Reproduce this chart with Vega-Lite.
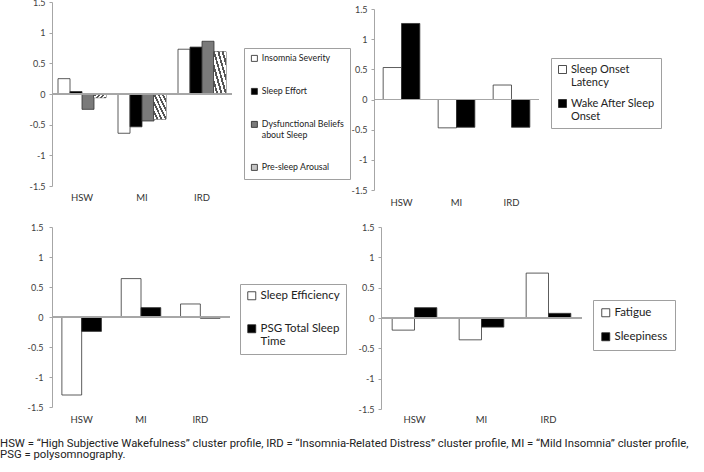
{
  "$schema": "https://vega.github.io/schema/vega-lite/v6.json",
  "padding": {"left": 0, "top": -2, "right": 0, "bottom": 0},
  "config": {
    "font": "Lato",
    "view": {"stroke": null},
    "axis": {"grid": false},
    "axisY": {"domainColor": "#a6a6a6", "tickColor": "#a6a6a6", "tickSize": 3, "labelFontSize": 9, "labelColor": "#404040", "labelPadding": 4, "labelOverlap": false, "title": null},
    "axisX": {"title": null, "domain": false, "ticks": false, "labelAngle": 0, "labelFontSize": 9.5, "labelColor": "#333333", "labelOverlap": false, "labelLimit": 100},
    "legend": {"orient": "none", "strokeColor": "#a0a0a0", "fillColor": "#ffffff", "symbolType": "square", "symbolStrokeColor": "#222222", "symbolStrokeWidth": 0.8, "labelColor": "#222222", "labelLimit": 300, "labelOffset": 3}
  },
  "title": {
    "text": ["HSW = “High Subjective Wakefulness” cluster profile, IRD = “Insomnia-Related Distress” cluster profile, MI = “Mild Insomnia” cluster profile,", "PSG = polysomnography."],
    "orient": "bottom", "anchor": "start", "frame": "bounds", "dx": -27,
    "font": "Roboto", "fontSize": 11.3, "fontWeight": "normal", "color": "#222222", "offset": 14, "lineHeight": 11.5
  },
  "datasets": {
    "tl": [
      {"g": "HSW", "s": "Insomnia Severity", "v": 0.25},
      {"g": "HSW", "s": "Sleep Effort", "v": 0.04},
      {"g": "HSW", "s": "Dysfunctional Beliefs about Sleep", "v": -0.25},
      {"g": "HSW", "s": "Pre-sleep Arousal", "v": -0.06},
      {"g": "MI", "s": "Insomnia Severity", "v": -0.64},
      {"g": "MI", "s": "Sleep Effort", "v": -0.535},
      {"g": "MI", "s": "Dysfunctional Beliefs about Sleep", "v": -0.44},
      {"g": "MI", "s": "Pre-sleep Arousal", "v": -0.41},
      {"g": "IRD", "s": "Insomnia Severity", "v": 0.73},
      {"g": "IRD", "s": "Sleep Effort", "v": 0.765},
      {"g": "IRD", "s": "Dysfunctional Beliefs about Sleep", "v": 0.86},
      {"g": "IRD", "s": "Pre-sleep Arousal", "v": 0.69}
    ],
    "tr": [
      {"g": "HSW", "s": "Sleep Onset Latency", "v": 0.53},
      {"g": "HSW", "s": "Wake After Sleep Onset", "v": 1.26},
      {"g": "MI", "s": "Sleep Onset Latency", "v": -0.47},
      {"g": "MI", "s": "Wake After Sleep Onset", "v": -0.46},
      {"g": "IRD", "s": "Sleep Onset Latency", "v": 0.24},
      {"g": "IRD", "s": "Wake After Sleep Onset", "v": -0.46}
    ],
    "bl": [
      {"g": "HSW", "s": "Sleep Efficiency", "v": -1.3},
      {"g": "HSW", "s": "PSG Total Sleep Time", "v": -0.24},
      {"g": "MI", "s": "Sleep Efficiency", "v": 0.64},
      {"g": "MI", "s": "PSG Total Sleep Time", "v": 0.156},
      {"g": "IRD", "s": "Sleep Efficiency", "v": 0.217},
      {"g": "IRD", "s": "PSG Total Sleep Time", "v": -0.02}
    ],
    "br": [
      {"g": "HSW", "s": "Fatigue", "v": -0.2},
      {"g": "HSW", "s": "Sleepiness", "v": 0.17},
      {"g": "MI", "s": "Fatigue", "v": -0.36},
      {"g": "MI", "s": "Sleepiness", "v": -0.15},
      {"g": "IRD", "s": "Fatigue", "v": 0.74},
      {"g": "IRD", "s": "Sleepiness", "v": 0.077}
    ]
  },
  "spacing": 16,
  "resolve": {"scale": {"fill": "independent"}, "legend": {"fill": "independent"}},
  "vconcat": [
    {
      "spacing": 0,
      "resolve": {"scale": {"fill": "independent"}, "legend": {"fill": "independent"}},
      "hconcat": [
        {
          "width": 180, "height": 184,
          "data": {"name": "tl"},
          "transform": [{"calculate": "datum.g + '|' + datum.s", "as": "k"}],
          "layer": [
            {
              "mark": {"type": "bar", "stroke": "#333333", "strokeWidth": 0.8},
              "encoding": {
                "x": {"field": "k", "type": "nominal",
                      "scale": {"domain": ["HSW|Insomnia Severity", "HSW|Sleep Effort", "HSW|Dysfunctional Beliefs about Sleep", "HSW|Pre-sleep Arousal", "sp1",
                                           "MI|Insomnia Severity", "MI|Sleep Effort", "MI|Dysfunctional Beliefs about Sleep", "MI|Pre-sleep Arousal", "sp2",
                                           "IRD|Insomnia Severity", "IRD|Sleep Effort", "IRD|Dysfunctional Beliefs about Sleep", "IRD|Pre-sleep Arousal"],
                                "paddingInner": 0, "paddingOuter": 0.5},
                      "axis": {"labelPadding": 6, "labelOffset": 6, "labelExpr": "indexof(datum.label, '|Sleep Effort') > 0 ? substring(datum.label, 0, indexof(datum.label, '|')) : ''"}},
                "y": {"field": "v", "type": "quantitative", "scale": {"domain": [-1.5, 1.5], "nice": false},
                      "axis": {"labelOverlap": false, "tickCount": 7, "labelExpr": "datum.value == 0 ? '0' : (datum.value < 0 ? '-' : '') + toString(abs(datum.value))"}},
                "fill": {"field": "s", "type": "nominal",
                         "scale": {"domain": ["Insomnia Severity", "Sleep Effort", "Dysfunctional Beliefs about Sleep", "Pre-sleep Arousal"],
                                   "range": ["#ffffff", "#000000", "#7a7a7a", "#c4c4c4"]},
                         "legend": {"title": null, "legendX": 192, "legendY": 46, "padding": 6, "symbolSize": 36, "labelFontSize": 8.8, "rowPadding": 22,
                                    "labelExpr": "datum.label == 'Dysfunctional Beliefs about Sleep' ? ['Dysfunctional Beliefs', 'about Sleep'] : datum.label"}}
              }
            },
            {
              "mark": {"type": "bar", "strokeWidth": 0,
                       "fill": {"gradient": "linear", "x1": 0, "y1": 1, "x2": 1, "y2": 0, "stops": [
                         {"offset": 0, "color": "#ffffff"}, {"offset": 0.1, "color": "#ffffff"}, {"offset": 0.1, "color": "#555555"}, {"offset": 0.18, "color": "#555555"},
                         {"offset": 0.18, "color": "#ffffff"}, {"offset": 0.28, "color": "#ffffff"}, {"offset": 0.28, "color": "#555555"}, {"offset": 0.36, "color": "#555555"},
                         {"offset": 0.36, "color": "#ffffff"}, {"offset": 0.46, "color": "#ffffff"}, {"offset": 0.46, "color": "#555555"}, {"offset": 0.54, "color": "#555555"},
                         {"offset": 0.54, "color": "#ffffff"}, {"offset": 0.64, "color": "#ffffff"}, {"offset": 0.64, "color": "#555555"}, {"offset": 0.72, "color": "#555555"},
                         {"offset": 0.72, "color": "#ffffff"}, {"offset": 0.82, "color": "#ffffff"}, {"offset": 0.82, "color": "#555555"}, {"offset": 0.9, "color": "#555555"},
                         {"offset": 0.9, "color": "#ffffff"}, {"offset": 1, "color": "#ffffff"}]}},
              "encoding": {
                "x": {"field": "k", "type": "nominal"},
                "y": {"field": "v", "type": "quantitative"},
                "opacity": {"condition": {"test": "datum.s == 'Pre-sleep Arousal'", "value": 1}, "value": 0}
              }
            },
            {
              "mark": {"type": "rule", "color": "#a6a6a6", "strokeWidth": 1},
              "encoding": {"y": {"datum": 0, "type": "quantitative"}}
            }
          ]
        },
        {
          "width": 165, "height": 188,
          "data": {"name": "tr"},
          "transform": [{"calculate": "datum.g + '|' + datum.s", "as": "k"}],
          "layer": [
            {
              "mark": {"type": "bar", "stroke": "#333333", "strokeWidth": 0.8},
              "encoding": {
                "x": {"field": "k", "type": "nominal",
                      "scale": {"domain": ["HSW|Sleep Onset Latency", "HSW|Wake After Sleep Onset", "sp1", "MI|Sleep Onset Latency", "MI|Wake After Sleep Onset", "sp2", "IRD|Sleep Onset Latency", "IRD|Wake After Sleep Onset"],
                                "paddingInner": 0, "paddingOuter": 0.5},
                      "axis": {"labelPadding": 7, "labelOffset": 9.2, "labelExpr": "indexof(datum.label, '|Sleep Onset Latency') > 0 ? substring(datum.label, 0, indexof(datum.label, '|')) : ''"}},
                "y": {"field": "v", "type": "quantitative", "scale": {"domain": [-1.5, 1.5], "nice": false, "range": [188, 7]},
                      "axis": {"labelOverlap": false, "tickCount": 7, "labelExpr": "datum.value == 0 ? '0' : (datum.value < 0 ? '-' : '') + toString(abs(datum.value))"}},
                "fill": {"field": "s", "type": "nominal",
                         "scale": {"domain": ["Sleep Onset Latency", "Wake After Sleep Onset"], "range": ["#ffffff", "#000000"]},
                         "legend": {"title": null, "legendX": 177, "legendY": 56, "padding": 6, "symbolSize": 64, "labelFontSize": 11, "rowPadding": 9,
                                    "labelExpr": "datum.label == 'Sleep Onset Latency' ? ['Sleep Onset', 'Latency'] : ['Wake After Sleep', 'Onset']"}}
              }
            },
            {
              "mark": {"type": "rule", "color": "#a6a6a6", "strokeWidth": 1},
              "encoding": {"y": {"datum": 0, "type": "quantitative"}}
            }
          ]
        }
      ]
    },
    {
      "spacing": 11,
      "resolve": {"scale": {"fill": "independent"}, "legend": {"fill": "independent"}},
      "hconcat": [
        {
          "width": 178, "height": 180,
          "data": {"name": "bl"},
          "transform": [{"calculate": "datum.g + '|' + datum.s", "as": "k"}],
          "layer": [
            {
              "mark": {"type": "bar", "stroke": "#333333", "strokeWidth": 0.8},
              "encoding": {
                "x": {"field": "k", "type": "nominal",
                      "scale": {"domain": ["HSW|Sleep Efficiency", "HSW|PSG Total Sleep Time", "sp1", "MI|Sleep Efficiency", "MI|PSG Total Sleep Time", "sp2", "IRD|Sleep Efficiency", "IRD|PSG Total Sleep Time"],
                                "paddingInner": 0, "paddingOuter": 0.5},
                      "axis": {"labelPadding": 7, "labelOffset": 9.9, "labelExpr": "indexof(datum.label, '|Sleep Efficiency') > 0 ? substring(datum.label, 0, indexof(datum.label, '|')) : ''"}},
                "y": {"field": "v", "type": "quantitative", "scale": {"domain": [-1.5, 1.5], "nice": false},
                      "axis": {"labelOverlap": false, "labelPadding": 6, "tickCount": 7, "labelExpr": "datum.value == 0 ? '0' : (datum.value < 0 ? '-' : '') + toString(abs(datum.value))"}},
                "fill": {"field": "s", "type": "nominal",
                         "scale": {"domain": ["Sleep Efficiency", "PSG Total Sleep Time"], "range": ["#ffffff", "#000000"]},
                         "legend": {"title": null, "legendX": 188, "legendY": 57, "padding": 6, "symbolSize": 64, "labelFontSize": 11.5, "rowPadding": 20,
                                    "labelExpr": "datum.label == 'PSG Total Sleep Time' ? ['PSG Total Sleep', 'Time'] : datum.label"}}
              }
            },
            {
              "mark": {"type": "rule", "color": "#a6a6a6", "strokeWidth": 1},
              "encoding": {"y": {"datum": 0, "type": "quantitative"}}
            }
          ]
        },
        {
          "width": 201, "height": 182,
          "data": {"name": "br"},
          "transform": [{"calculate": "datum.g + '|' + datum.s", "as": "k"}],
          "layer": [
            {
              "mark": {"type": "bar", "stroke": "#333333", "strokeWidth": 0.8},
              "encoding": {
                "x": {"field": "k", "type": "nominal",
                      "scale": {"domain": ["HSW|Fatigue", "HSW|Sleepiness", "sp1", "MI|Fatigue", "MI|Sleepiness", "sp2", "IRD|Fatigue", "IRD|Sleepiness"],
                                "paddingInner": 0, "paddingOuter": 0.5},
                      "axis": {"labelPadding": 5, "labelOffset": 11.2, "labelExpr": "indexof(datum.label, '|Fatigue') > 0 ? substring(datum.label, 0, indexof(datum.label, '|')) : ''"}},
                "y": {"field": "v", "type": "quantitative", "scale": {"domain": [-1.5, 1.5], "nice": false},
                      "axis": {"labelOverlap": false, "tickCount": 7, "labelExpr": "datum.value == 0 ? '0' : (datum.value < 0 ? '-' : '') + toString(abs(datum.value))"}},
                "fill": {"field": "s", "type": "nominal",
                         "scale": {"domain": ["Fatigue", "Sleepiness"], "range": ["#ffffff", "#000000"]},
                         "legend": {"title": null, "legendX": 212, "legendY": 73, "padding": 7, "symbolSize": 64, "labelFontSize": 11.5, "rowPadding": 11}}
              }
            },
            {
              "mark": {"type": "rule", "color": "#a6a6a6", "strokeWidth": 1},
              "encoding": {"y": {"datum": 0, "type": "quantitative"}}
            }
          ]
        }
      ]
    }
  ]
}
